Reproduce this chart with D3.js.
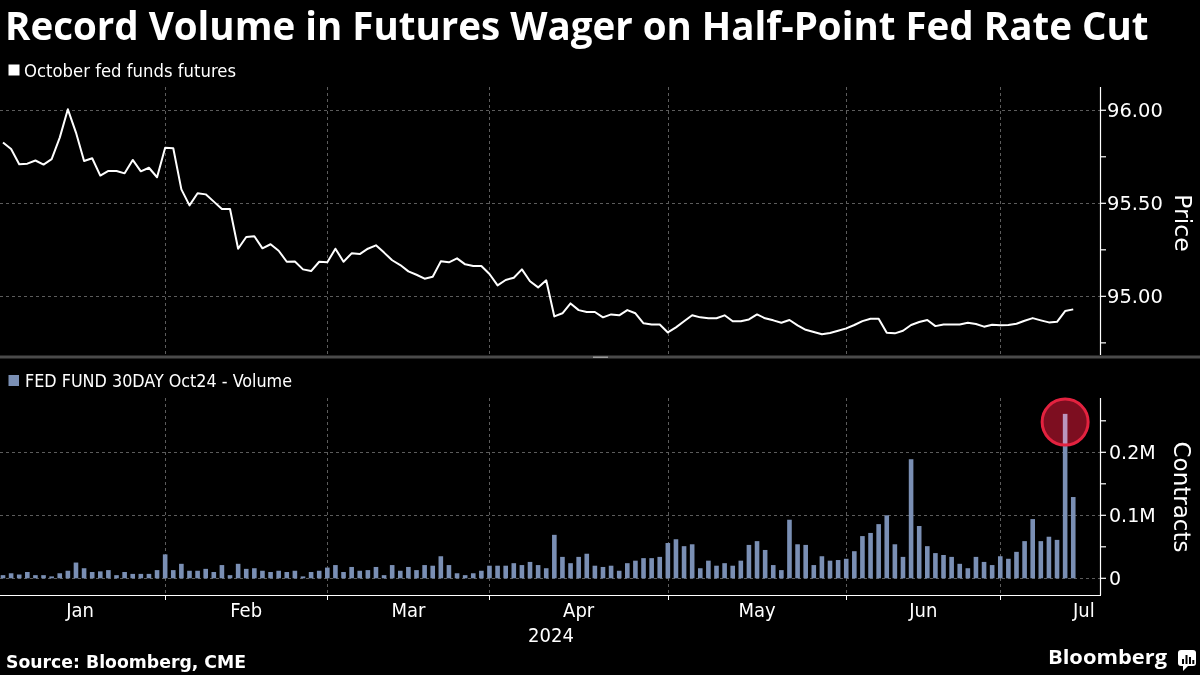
<!DOCTYPE html>
<html>
<head>
<meta charset="utf-8">
<script src="https://cdn.jsdelivr.net/npm/d3@7"></script>
<style>
  html, body { margin: 0; padding: 0; background: #000; }
  svg { display: block; }
</style>
</head>
<body>
<svg id="chart" width="1200" height="675"></svg>
<script>
// ---------------- DATA ----------------
const dates = [
  "2024-01-02","2024-01-03","2024-01-04","2024-01-05","2024-01-08","2024-01-09","2024-01-10","2024-01-11","2024-01-12","2024-01-16",
  "2024-01-17","2024-01-18","2024-01-19","2024-01-22","2024-01-23","2024-01-24","2024-01-25","2024-01-26","2024-01-29","2024-01-30",
  "2024-01-31","2024-02-01","2024-02-02","2024-02-05","2024-02-06","2024-02-07","2024-02-08","2024-02-09","2024-02-12","2024-02-13",
  "2024-02-14","2024-02-15","2024-02-16","2024-02-20","2024-02-21","2024-02-22","2024-02-23","2024-02-26","2024-02-27","2024-02-28",
  "2024-02-29","2024-03-01","2024-03-04","2024-03-05","2024-03-06","2024-03-07","2024-03-08","2024-03-11","2024-03-12","2024-03-13",
  "2024-03-14","2024-03-15","2024-03-18","2024-03-19","2024-03-20","2024-03-21","2024-03-22","2024-03-25","2024-03-26","2024-03-27",
  "2024-03-28","2024-04-01","2024-04-02","2024-04-03","2024-04-04","2024-04-05","2024-04-08","2024-04-09","2024-04-10","2024-04-11",
  "2024-04-12","2024-04-15","2024-04-16","2024-04-17","2024-04-18","2024-04-19","2024-04-22","2024-04-23","2024-04-24","2024-04-25",
  "2024-04-26","2024-04-29","2024-04-30","2024-05-01","2024-05-02","2024-05-03","2024-05-06","2024-05-07","2024-05-08","2024-05-09",
  "2024-05-10","2024-05-13","2024-05-14","2024-05-15","2024-05-16","2024-05-17","2024-05-20","2024-05-21","2024-05-22","2024-05-23",
  "2024-05-24","2024-05-28","2024-05-29","2024-05-30","2024-05-31","2024-06-03","2024-06-04","2024-06-05","2024-06-06","2024-06-07",
  "2024-06-10","2024-06-11","2024-06-12","2024-06-13","2024-06-14","2024-06-17","2024-06-18","2024-06-20","2024-06-21","2024-06-24",
  "2024-06-25","2024-06-26","2024-06-27","2024-06-28","2024-07-01","2024-07-02","2024-07-03","2024-07-05","2024-07-08","2024-07-09",
  "2024-07-10","2024-07-11","2024-07-12"
];

// October fed funds futures price
const price = [
  95.827,95.792,95.710,95.713,95.730,95.708,95.737,95.853,96.005,95.880,
  95.727,95.742,95.649,95.674,95.674,95.661,95.733,95.672,95.691,95.640,
  95.799,95.796,95.575,95.489,95.554,95.548,95.509,95.469,95.469,95.256,
  95.319,95.323,95.258,95.280,95.245,95.186,95.187,95.145,95.136,95.186,
  95.183,95.256,95.186,95.231,95.227,95.256,95.274,95.235,95.194,95.168,
  95.134,95.116,95.095,95.105,95.188,95.183,95.204,95.172,95.163,95.163,
  95.120,95.059,95.088,95.100,95.145,95.081,95.048,95.086,94.892,94.909,
  94.962,94.926,94.916,94.916,94.887,94.903,94.898,94.926,94.909,94.855,
  94.849,94.849,94.806,94.833,94.866,94.898,94.887,94.882,94.882,94.898,
  94.866,94.866,94.876,94.903,94.882,94.871,94.858,94.873,94.844,94.820,
  94.808,94.796,94.803,94.815,94.828,94.846,94.867,94.880,94.880,94.804,
  94.801,94.815,94.846,94.862,94.873,94.840,94.849,94.849,94.849,94.858,
  94.851,94.837,94.847,94.844,94.846,94.853,94.869,94.883,94.871,94.860,
  94.863,94.921,94.930
];

// FED FUND 30DAY Oct24 volume, thousands of contracts
const volumeK = [
  5,8,6,10,5,5,3,8,12,25,
  16,10,11,13,5,10,7,7,7,13,
  38,13,23,12,12,15,10,21,5,23,
  15,16,12,10,12,10,12,3,10,12,
  17,21,10,18,12,13,18,5,21,12,
  18,13,21,20,35,21,8,5,8,12,
  20,20,20,24,21,26,21,16,69,34,
  24,34,39,20,18,20,12,24,28,32,
  32,34,56,62,51,54,16,28,20,24,
  20,28,53,59,45,21,13,93,54,53,
  21,35,28,29,31,43,67,72,86,100,
  54,34,189,83,51,40,37,34,23,16,
  34,26,21,35,31,42,59,94,59,66,
  61,261,129
];

const priceTicks = [95.00, 95.50, 96.00];
const priceTickLabels = ["95.00", "95.50", "96.00"];
const priceMinorTicks = [94.75, 95.25, 95.75];
const volTicks = [0, 100, 200];
const volTickLabels = ["0", "0.1M", "0.2M"];
const volMinorTicks = [50, 150, 250];
const highlightDate = "2024-07-11";
const highlightCenterK = 248;

const titleText = "Record Volume in Futures Wager on Half-Point Fed Rate Cut";
const legend1Text = "October fed funds futures";
const legend2Text = "FED FUND 30DAY Oct24 - Volume";
const yearLabel = "2024";
const sourceText = "Source: Bloomberg, CME";

// ---------------- LAYOUT ----------------
const W = 1200, H = 675;
const plotLeft = 0, plotRight = 1100;
const priceTop = 87, priceBottom = 357;
const volTop = 398, volBottom = 595;
const barColor = "#7a8fb4";
const gridColor = "#5c5c5c";
const sansCond = "'DejaVu Sans Condensed', 'DejaVu Sans', sans-serif";
const sans = "'DejaVu Sans', sans-serif";

const svg = d3.select("#chart");
svg.append("rect").attr("width", W).attr("height", H).attr("fill", "#000");

const parse = d3.timeParse("%Y-%m-%d");
const dts = dates.map(parse);

const x = d3.scaleLinear().domain([-0.37, 135.3]).range([plotLeft, plotRight]);
const yP = d3.scaleLinear().domain([94.674, 96.125]).range([priceBottom, priceTop]);
const yV = d3.scaleLinear().domain([-26.5, 286.2]).range([volBottom, volTop]);

// month boundaries: last trading day of each month (except final)
const boundaries = [];
for (let i = 0; i < dts.length - 1; i++) {
  if (dts[i].getMonth() !== dts[i + 1].getMonth()) boundaries.push(i);
}

// ---------------- TITLE ----------------
const title = svg.append("text")
  .attr("x", 5).attr("y", 40)
  .attr("fill", "#fff")
  .attr("font-family", "'Open Sans', 'DejaVu Sans', sans-serif")
  .attr("font-weight", 700)
  .attr("font-size", 34)
  .text(titleText);
{
  const w = title.node().getComputedTextLength();
  if (w > 0) title.attr("font-size", 34 * 1144 / w);
}

// legend 1
svg.append("rect").attr("x", 8.5).attr("y", 64.5).attr("width", 11).attr("height", 11).attr("fill", "#fff");
svg.append("text").attr("x", 24).attr("y", 76.5)
  .attr("fill", "#fff").attr("font-family", sansCond).attr("font-size", 18)
  .attr("textLength", 212).attr("lengthAdjust", "spacingAndGlyphs")
  .text(legend1Text);

// legend 2
svg.append("rect").attr("x", 8.5).attr("y", 375).attr("width", 10.5).attr("height", 11).attr("fill", barColor);
svg.append("text").attr("x", 25).attr("y", 387)
  .attr("fill", "#fff").attr("font-family", sansCond).attr("font-size", 17)
  .attr("textLength", 267).attr("lengthAdjust", "spacingAndGlyphs")
  .text(legend2Text);

// ---------------- GRIDLINES ----------------
const grid = svg.append("g").attr("stroke", gridColor).attr("stroke-width", 1).attr("stroke-dasharray", "3,3");
grid.selectAll(".hp").data(priceTicks).join("line")
  .attr("x1", plotLeft).attr("x2", plotRight)
  .attr("y1", d => Math.round(yP(d)) + 0.5).attr("y2", d => Math.round(yP(d)) + 0.5);
grid.selectAll(".hv").data(volTicks).join("line")
  .attr("x1", plotLeft).attr("x2", plotRight)
  .attr("y1", d => Math.round(yV(d)) + 0.5).attr("y2", d => Math.round(yV(d)) + 0.5);
grid.selectAll(".vp").data(boundaries).join("line")
  .attr("x1", d => Math.round(x(d)) + 0.5).attr("x2", d => Math.round(x(d)) + 0.5)
  .attr("y1", priceTop).attr("y2", priceBottom - 2);
grid.selectAll(".vv").data(boundaries).join("line")
  .attr("x1", d => Math.round(x(d)) + 0.5).attr("x2", d => Math.round(x(d)) + 0.5)
  .attr("y1", volTop).attr("y2", volBottom);

// ---------------- PRICE LINE ----------------
const line = d3.line().x((d, i) => x(i)).y(d => yP(d));
svg.append("path").datum(price)
  .attr("d", line)
  .attr("fill", "none").attr("stroke", "#fff").attr("stroke-width", 2)
  .attr("stroke-linejoin", "round");

// ---------------- VOLUME BARS ----------------
const barW = 4.6;
const hiIdx = dates.indexOf(highlightDate);
// highlight circle fill (screen blended)
const cx = x(hiIdx), cy = yV(highlightCenterK);
svg.append("g").selectAll("rect").data(volumeK).join("rect")
  .attr("x", (d, i) => x(i) - barW / 2)
  .attr("width", barW)
  .attr("y", d => yV(d))
  .attr("height", d => yV(0) - yV(d))
  .attr("fill", barColor);
svg.append("circle").attr("cx", cx).attr("cy", cy).attr("r", 23)
  .attr("fill", "rgb(125,14,32)").style("mix-blend-mode", "screen");
svg.append("circle").attr("cx", cx).attr("cy", cy).attr("r", 23)
  .attr("fill", "none").attr("stroke", "#e3223f").attr("stroke-width", 3);

// ---------------- DIVIDER ----------------
svg.append("rect").attr("x", 0).attr("y", 355.5).attr("width", W).attr("height", 3).attr("fill", "#4a4a4a");
svg.append("rect").attr("x", 593).attr("y", 356.5).attr("width", 15).attr("height", 1.5).attr("fill", "#9a9a9a");

// ---------------- AXES ----------------
const axisG = svg.append("g").attr("stroke", "#fff").attr("stroke-width", 1.2);
// price axis
axisG.append("line").attr("x1", plotRight + 0.5).attr("x2", plotRight + 0.5).attr("y1", priceTop).attr("y2", priceBottom - 2);
axisG.selectAll(".pt").data(priceTicks.concat(priceMinorTicks)).join("line")
  .attr("x1", plotRight).attr("x2", plotRight + 6)
  .attr("y1", d => yP(d)).attr("y2", d => yP(d));
// volume axis
axisG.append("line").attr("x1", plotRight + 0.5).attr("x2", plotRight + 0.5).attr("y1", volTop).attr("y2", volBottom);
axisG.selectAll(".vt").data(volTicks.concat(volMinorTicks)).join("line")
  .attr("x1", plotRight).attr("x2", plotRight + 6)
  .attr("y1", d => yV(d)).attr("y2", d => yV(d));
// x axis
axisG.append("line").attr("x1", plotLeft).attr("x2", plotRight + 1).attr("y1", volBottom + 0.5).attr("y2", volBottom + 0.5);
axisG.selectAll(".xt").data(boundaries).join("line")
  .attr("x1", d => Math.round(x(d)) + 0.5).attr("x2", d => Math.round(x(d)) + 0.5)
  .attr("y1", volBottom).attr("y2", volBottom + 5)
  .attr("stroke-width", 1);

// tick labels
svg.selectAll(".ptl").data(priceTicks).join("text")
  .attr("x", plotRight + 7).attr("y", d => yP(d) + 7)
  .attr("fill", "#fff").attr("font-family", sans).attr("font-size", 19.5)
  .text((d, i) => priceTickLabels[i]);
svg.selectAll(".vtl").data(volTicks).join("text")
  .attr("x", plotRight + 9).attr("y", d => yV(d) + 7)
  .attr("fill", "#fff").attr("font-family", sans).attr("font-size", 19)
  .text((d, i) => volTickLabels[i]);

// axis titles
svg.append("text").attr("transform", "translate(1175,223) rotate(90)")
  .attr("text-anchor", "middle").attr("fill", "#fff")
  .attr("font-family", sans).attr("font-size", 23.5).text("Price");
svg.append("text").attr("transform", "translate(1174,497) rotate(90)")
  .attr("text-anchor", "middle").attr("fill", "#fff")
  .attr("font-family", sans).attr("font-size", 23).text("Contracts");

// month labels
const fmtMonth = d3.timeFormat("%b");
const bounds = [-1].concat(boundaries);
const avgMonthPx = (x(boundaries[boundaries.length - 1]) - x(boundaries[0])) / (boundaries.length - 1);
bounds.forEach((b, k) => {
  const startIdx = b + 1;
  let cxm;
  if (k < bounds.length - 1) cxm = (x(b) + x(bounds[k + 1])) / 2;
  else cxm = x(b) + avgMonthPx / 2;
  const t = svg.append("text").attr("y", 617)
    .attr("fill", "#fff").attr("font-family", sansCond).attr("font-size", 20)
    .attr("text-anchor", "middle")
    .text(fmtMonth(dts[startIdx]));
  const w = t.node().getComputedTextLength();
  if (cxm + w / 2 > plotRight - 5) cxm = plotRight - 5 - w / 2;
  t.attr("x", cxm);
});
svg.append("text").attr("x", 551).attr("y", 642)
  .attr("fill", "#fff").attr("font-family", sansCond).attr("font-size", 20)
  .attr("text-anchor", "middle").text(yearLabel);

// ---------------- FOOTER ----------------
svg.append("text").attr("x", 6).attr("y", 668)
  .attr("fill", "#fff").attr("font-family", "'DejaVu Sans', sans-serif").attr("font-weight", 700)
  .attr("font-size", 17).attr("textLength", 240).attr("lengthAdjust", "spacingAndGlyphs")
  .text(sourceText);
svg.append("text").attr("x", 1048).attr("y", 664)
  .attr("fill", "#fff").attr("font-family", "'Open Sans', 'DejaVu Sans', sans-serif").attr("font-weight", 700)
  .attr("font-size", 20).attr("textLength", 119).attr("lengthAdjust", "spacingAndGlyphs")
  .text("Bloomberg");
// logo icon
const logo = svg.append("g");
logo.append("rect").attr("x", 1178).attr("y", 650).attr("width", 18).attr("height", 16).attr("rx", 3).attr("fill", "#fff");
logo.append("path").attr("d", "M1183,665 L1183,671 L1189,665 Z").attr("fill", "#fff");
[[1182, 659, 5], [1185.5, 655, 9], [1189, 657, 7], [1192.3, 660, 4]].forEach(([bx, by, bh]) => {
  logo.append("rect").attr("x", bx).attr("y", by).attr("width", 2).attr("height", bh).attr("fill", "#000");
});
</script>
</body>
</html>
